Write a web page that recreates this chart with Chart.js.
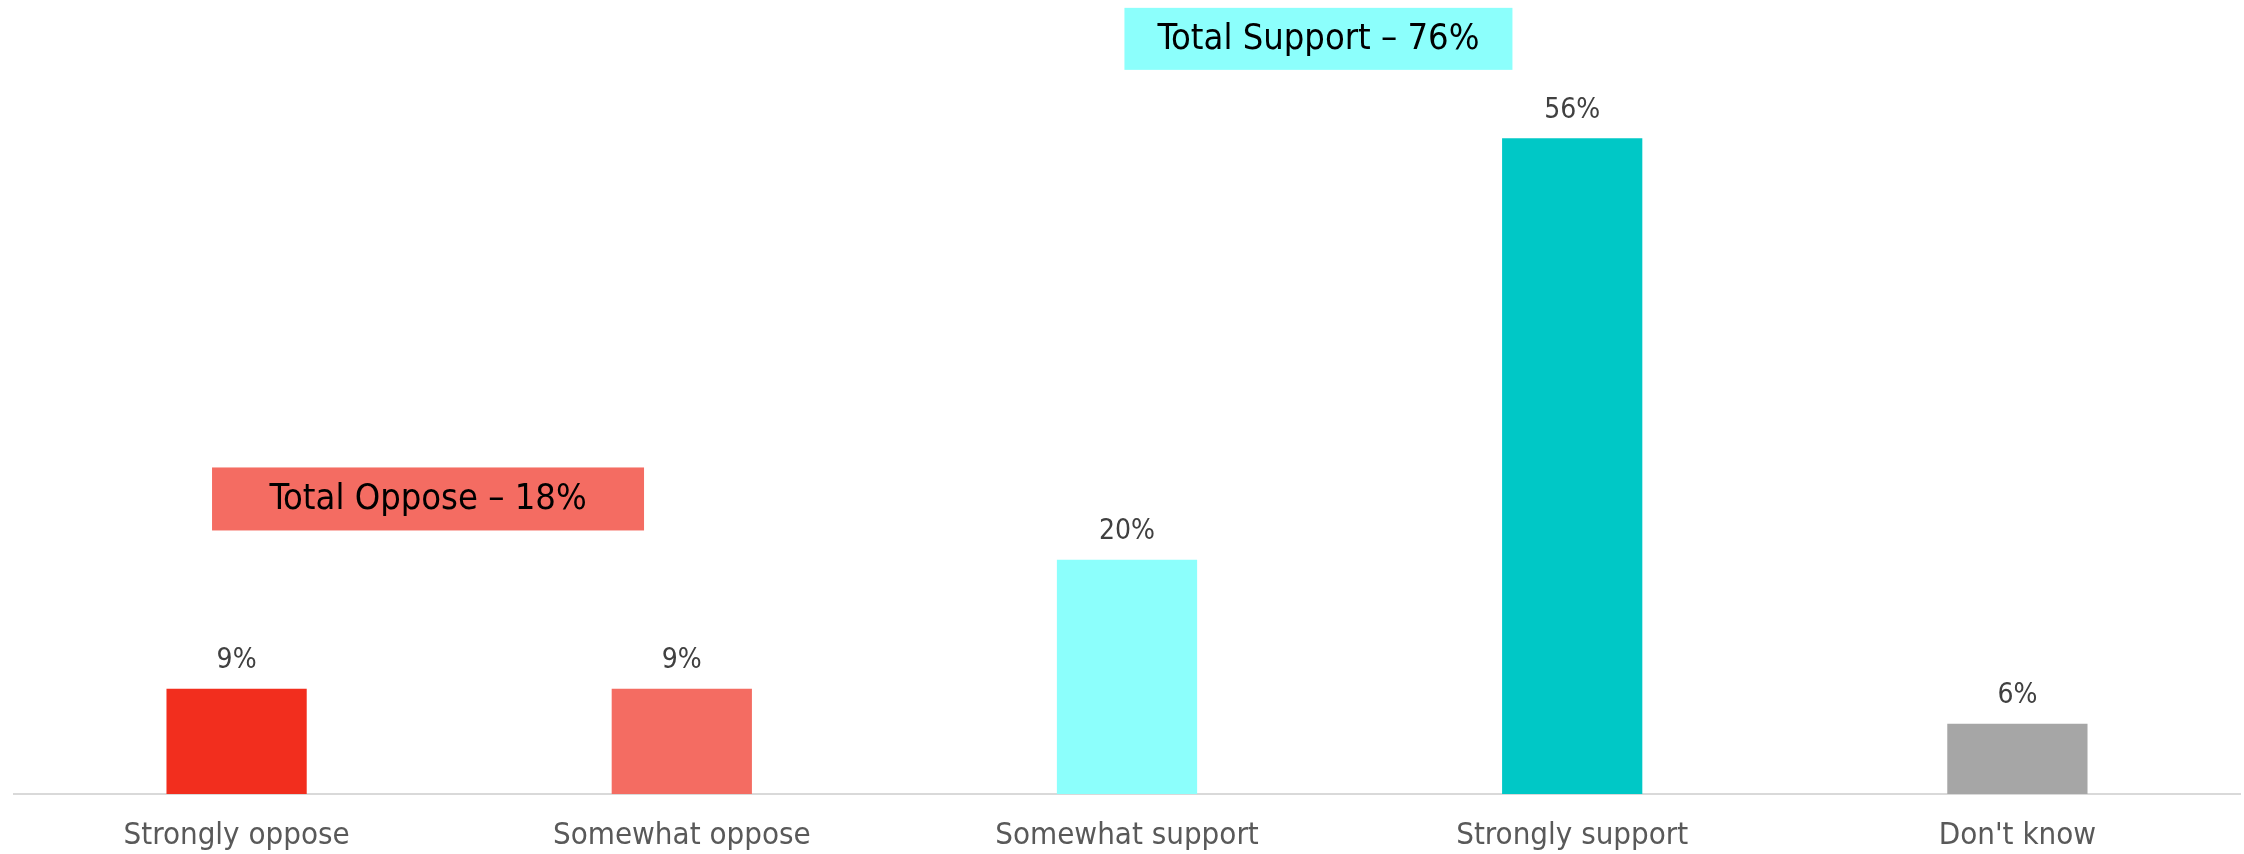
<!DOCTYPE html>
<html>
<head>
<meta charset="utf-8">
<script src="https://cdn.jsdelivr.net/npm/chart.js@4.4.1/dist/chart.umd.min.js"></script>
<style>
  html, body { margin: 0; padding: 0; background: #fff; }
  #wrap { width: 2244px; height: 854px; }
</style>
</head>
<body>
<div id="wrap"><canvas id="support"></canvas></div>
<script>
const categories = ['Strongly oppose', 'Somewhat oppose', 'Somewhat support', 'Strongly support', "Don't know"];
const shares = [9, 9, 20, 56, 6];
const barColors = ['#F22E1E', '#F46C62', '#8CFFFC', '#00C8C6', '#A6A6A6'];

const FONT = '"DejaVu Sans Condensed", "DejaVu Sans", sans-serif';

// the two "total" boxes, placed in category-index / value units
const totals = [
  { text: 'Total Oppose \u2013 ' + (shares[0] + shares[1]) + '%', at: 0.43, value: 25.2, w: 432, h: 63, fill: '#F46C62' },
  { text: 'Total Support \u2013 ' + (shares[2] + shares[3]) + '%', at: 2.43, value: 64.5, w: 388, h: 62, fill: '#8CFFFC' }
];

const valueLabels = {
  id: 'valueLabels',
  afterDatasetsDraw(chart) {
    const ctx = chart.ctx;
    ctx.save();
    ctx.font = '28px ' + FONT;
    ctx.fillStyle = '#404040';
    ctx.textAlign = 'center';
    ctx.textBaseline = 'middle';
    chart.getDatasetMeta(0).data.forEach((bar, i) => {
      ctx.fillText(shares[i] + '%', bar.x, bar.y - 28);
    });
    ctx.restore();
  }
};

const totalBoxes = {
  id: 'totalBoxes',
  afterDraw(chart) {
    const ctx = chart.ctx;
    const x = chart.scales.x, y = chart.scales.y;
    ctx.save();
    totals.forEach(t => {
      const cx = x.getPixelForValue(t.at);
      const cy = y.getPixelForValue(t.value);
      ctx.fillStyle = t.fill;
      ctx.fillRect(cx - t.w / 2, cy - t.h / 2, t.w, t.h);
      ctx.fillStyle = '#000';
      ctx.font = '36px ' + FONT;
      ctx.textAlign = 'center';
      ctx.textBaseline = 'middle';
      ctx.fillText(t.text, cx, cy + 1);
    });
    ctx.restore();
  }
};

new Chart(document.getElementById('support'), {
  type: 'bar',
  data: {
    labels: categories,
    datasets: [{
      data: shares,
      backgroundColor: barColors,
      categoryPercentage: 1,
      barPercentage: 0.315
    }]
  },
  options: {
    responsive: true,
    maintainAspectRatio: false,
    animation: false,
    layout: { padding: { top: 33, left: 14, right: 4, bottom: 2 } },
    plugins: {
      legend: { display: false },
      tooltip: { enabled: false }
    },
    scales: {
      x: {
        grid: { display: false, drawTicks: false },
        border: { display: true, color: '#D9D9D9', width: 2 },
        ticks: { color: '#595959', padding: 23, font: { size: 31, family: FONT } },
        afterFit(scale) { scale.height = 58; }
      },
      y: { display: false, min: 0, max: 65 }
    }
  },
  plugins: [valueLabels, totalBoxes]
});
</script>
</body>
</html>
